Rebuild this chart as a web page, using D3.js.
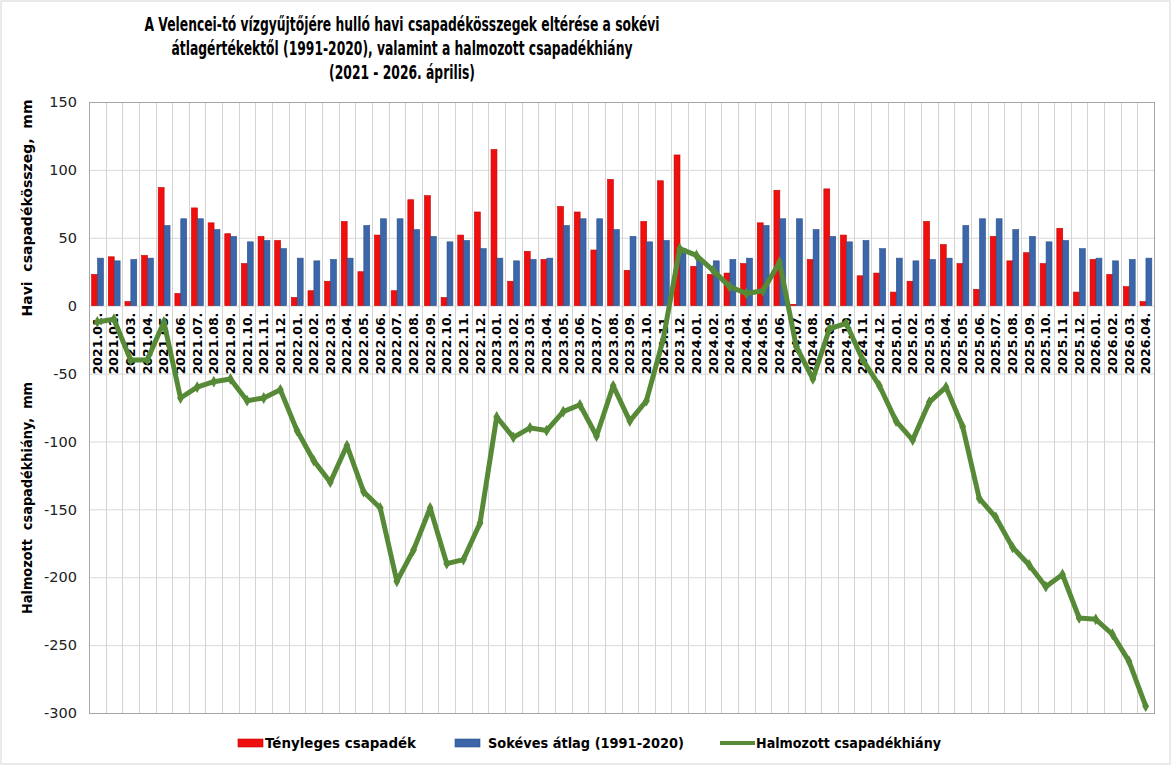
<!DOCTYPE html>
<html>
<head>
<meta charset="utf-8">
<script src="https://cdn.jsdelivr.net/npm/d3@7"></script>
<style>
  body { margin: 0; background: #fff; }
  svg { display: block; }
  text { font-family: "DejaVu Sans", Verdana, sans-serif; }
</style>
</head>
<body>
<div id="chartDiv"></div>
<script>
// months on the x axis
const months = [
  "2021.01.","2021.02.","2021.03.","2021.04.","2021.05.","2021.06.","2021.07.","2021.08.","2021.09.","2021.10.","2021.11.","2021.12.",
  "2022.01.","2022.02.","2022.03.","2022.04.","2022.05.","2022.06.","2022.07.","2022.08.","2022.09.","2022.10.","2022.11.","2022.12.",
  "2023.01.","2023.02.","2023.03.","2023.04.","2023.05.","2023.06.","2023.07.","2023.08.","2023.09.","2023.10.","2023.11.","2023.12.",
  "2024.01.","2024.02.","2024.03.","2024.04.","2024.05.","2024.06.","2024.07.","2024.08.","2024.09.","2024.10.","2024.11.","2024.12.",
  "2025.01.","2025.02.","2025.03.","2025.04.","2025.05.","2025.06.","2025.07.","2025.08.","2025.09.","2025.10.","2025.11.","2025.12.",
  "2026.01.","2026.02.","2026.03.","2026.04."
];

// Tényleges csapadék (mm)
const actual = [
  23, 36, 3, 37, 87, 9, 72, 61, 53, 31, 51, 48,
  6, 11, 18, 62, 25, 52, 11, 78, 81, 6, 52, 69,
  115, 18, 40, 34, 73, 69, 41, 93, 26, 62, 92, 111,
  29, 23, 24, 31, 61, 85, 1, 34, 86, 52, 22, 24,
  10, 18, 62, 45, 31, 12, 51, 33, 39, 31, 57, 10,
  34, 23, 14, 3
];

// Sokéves átlag 1991-2020 (mm)
const average = [
  35, 33, 34, 35, 59, 64, 64, 56, 51, 47, 48, 42,
  35, 33, 34, 35, 59, 64, 64, 56, 51, 47, 48, 42,
  35, 33, 34, 35, 59, 64, 64, 56, 51, 47, 48, 42,
  35, 33, 34, 35, 59, 64, 64, 56, 51, 47, 48, 42,
  35, 33, 34, 35, 59, 64, 64, 56, 51, 47, 48, 42,
  35, 33, 34, 35
];

// Halmozott csapadékhiány (mm)
const deficit = [
  -12, -10, -40, -40, -12, -68, -60, -56, -54, -70, -68, -62,
  -92, -114, -130, -103, -137, -149, -203, -180, -149, -190, -187, -160,
  -82, -97, -90, -92, -78, -73, -96, -59, -85, -70, -25, 42,
  37, 26, 14, 9, 11, 32, -30, -54, -17, -13, -40, -59,
  -85, -99, -71, -60, -89, -142, -156, -178, -191, -207, -198, -230,
  -231, -242, -262, -295
];

const yTicks = [150, 100, 50, 0, -50, -100, -150, -200, -250, -300];

const titleLines = [
  "A Velencei-tó vízgyűjtőjére hulló havi csapadékösszegek eltérése a sokévi",
  "átlagértékektől (1991-2020), valamint a halmozott csapadékhiány",
  "(2021 - 2026. április)"
];
const seriesNames = ["Tényleges csapadék", "Sokéves átlag (1991-2020)", "Halmozott csapadékhiány"];

const width = 1172, height = 766;
const plot = { left: 89, right: 1154, top: 102, bottom: 713 };
const colRed = "#f00f0f", colBlue = "#3b67aa", colGreen = "#578a37";

const svg = d3.select("#chartDiv").append("svg")
  .attr("width", width)
  .attr("height", height);

svg.append("rect")
  .attr("x", 1).attr("y", 1)
  .attr("width", width - 3).attr("height", height - 3)
  .attr("fill", "#fff").attr("stroke", "#d6d6d6");

const x = d3.scaleBand().domain(months).range([plot.left, plot.right]).padding(0);
const bw = x.bandwidth();
const inner = d3.scaleBand().domain(["act", "avg"]).range([bw * 0.16, bw * 0.87]).padding(0);
const y = d3.scaleLinear().domain([-300, 150]).range([plot.bottom, plot.top]);

// grid
const grid = svg.append("g");
grid.selectAll(".hg").data(yTicks).enter().append("line")
  .attr("x1", plot.left).attr("x2", plot.right)
  .attr("y1", d => y(d) + 0.5).attr("y2", d => y(d) + 0.5)
  .attr("stroke", "#d9d9d9");
grid.selectAll(".vg").data(months.slice(1)).enter().append("line")
  .attr("x1", d => Math.round(x(d)) + 0.5).attr("x2", d => Math.round(x(d)) + 0.5)
  .attr("y1", plot.top).attr("y2", plot.bottom)
  .attr("stroke", "#d4d4d4");

// bars
const barData = [];
months.forEach((m, i) => {
  barData.push({ m: m, key: "act", v: actual[i] });
  barData.push({ m: m, key: "avg", v: average[i] });
});
svg.append("g").selectAll("rect").data(barData).enter().append("rect")
  .attr("x", d => x(d.m) + inner(d.key))
  .attr("y", d => y(Math.max(d.v, 0)))
  .attr("width", inner.bandwidth())
  .attr("height", d => Math.abs(y(d.v) - y(0)))
  .attr("fill", d => d.key == "act" ? colRed : colBlue)
  .attr("stroke", d => d.key == "act" ? "#c40000" : "#2b4f88")
  .attr("stroke-width", 0.6);

// plot border
svg.append("rect")
  .attr("x", plot.left + 0.5).attr("y", plot.top + 0.5)
  .attr("width", plot.right - plot.left).attr("height", plot.bottom - plot.top)
  .attr("fill", "none").attr("stroke", "#a6a6a6");

// y tick labels
svg.append("g").selectAll("text").data(yTicks).enter().append("text")
  .attr("x", 77).attr("y", d => y(d))
  .attr("dy", "0.36em")
  .attr("text-anchor", "end")
  .attr("font-size", 14.5)
  .attr("fill", "#222")
  .text(d => d);

// x labels (rotated, below zero line)
svg.append("g").selectAll("text").data(months).enter().append("text")
  .attr("transform", d => `translate(${x(d) + bw / 2},${y(0) + 7}) rotate(-90)`)
  .attr("dy", "0.36em")
  .attr("text-anchor", "end")
  .attr("font-size", 12.5)
  .attr("font-weight", "bold")
  .attr("fill", "#000")
  .text(d => d);

// cumulative deficit line
const lineGen = d3.line()
  .x((d, i) => x(months[i]) + bw / 2)
  .y(d => y(d));
svg.append("path")
  .datum(deficit)
  .attr("d", lineGen)
  .attr("fill", "none")
  .attr("stroke", colGreen)
  .attr("stroke-width", 5)
  .attr("stroke-linejoin", "round");
svg.append("g").selectAll("path").data(deficit).enter().append("path")
  .attr("transform", (d, i) => `translate(${x(months[i]) + bw / 2},${y(d)})`)
  .attr("d", d3.symbol(d3.symbolDiamond, 40))
  .attr("fill", colGreen);

// title
const titleG = svg.append("g").attr("font-weight", "bold").attr("font-size", 20).attr("fill", "#000");
const titleYs = [31, 55, 79];
const titleText = titleG.selectAll("text").data(titleLines).enter().append("text")
  .attr("x", 402).attr("y", (d, i) => titleYs[i])
  .attr("text-anchor", "middle")
  .text(d => d);
const k = 515 / titleText.nodes()[0].getComputedTextLength();
titleText.each(function () {
  const w = this.getComputedTextLength();
  d3.select(this).attr("textLength", w * k).attr("lengthAdjust", "spacingAndGlyphs");
});

// axis titles
const axisTitles = [
  { t: "Havi  csapadékösszeg,  mm", cy: 208, len: 217 },
  { t: "Halmozott  csapadékhiány,  mm", cy: 498, len: 232 }
];
svg.append("g").selectAll("text").data(axisTitles).enter().append("text")
  .attr("transform", d => `translate(32,${d.cy}) rotate(-90)`)
  .attr("text-anchor", "middle")
  .attr("font-size", 14)
  .attr("font-weight", "bold")
  .attr("fill", "#000")
  .style("white-space", "pre")
  .attr("textLength", d => d.len)
  .attr("lengthAdjust", "spacingAndGlyphs")
  .text(d => d.t);

// legend
const legendItems = [
  { name: seriesNames[0], sx: 238, tx: 265, tl: 151, kind: "bar", c: colRed, s: "#c40000" },
  { name: seriesNames[1], sx: 455, tx: 488, tl: 196, kind: "bar", c: colBlue, s: "#2b4f88" },
  { name: seriesNames[2], sx: 720, tx: 756, tl: 185, kind: "line", c: colGreen }
];
const leg = svg.append("g");
legendItems.forEach(d => {
  if (d.kind == "bar") {
    leg.append("rect").attr("x", d.sx).attr("y", 739).attr("width", 25).attr("height", 8)
      .attr("fill", d.c).attr("stroke", d.s).attr("stroke-width", 0.6);
  } else {
    leg.append("line").attr("x1", d.sx).attr("x2", d.sx + 35).attr("y1", 743).attr("y2", 743)
      .attr("stroke", d.c).attr("stroke-width", 4);
  }
  leg.append("text").attr("x", d.tx).attr("y", 743).attr("dy", "0.36em")
    .attr("font-size", 14).attr("font-weight", "bold").attr("fill", "#000")
    .attr("textLength", d.tl).attr("lengthAdjust", "spacingAndGlyphs")
    .text(d.name);
});
</script>
</body>
</html>
